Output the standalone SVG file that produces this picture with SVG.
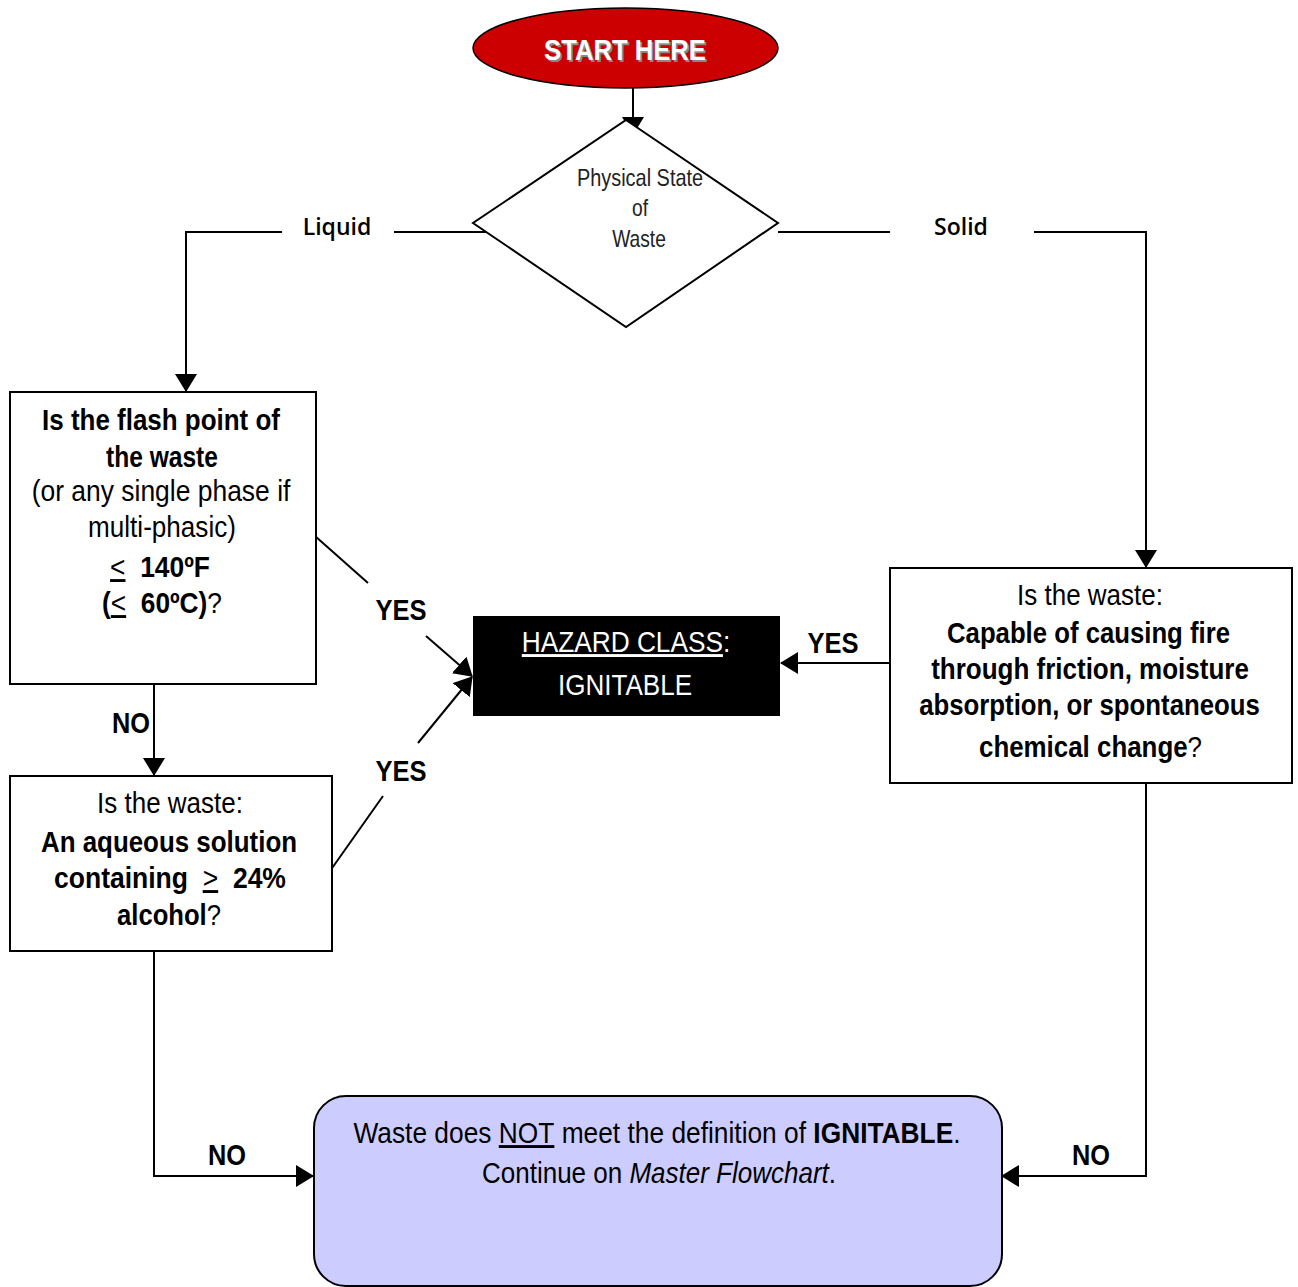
<svg xmlns="http://www.w3.org/2000/svg" width="1298" height="1287" viewBox="0 0 1298 1287">
<defs>
<style>
.n{font-family:"Liberation Sans Narrow","Arial Narrow","Liberation Sans",Arial,sans-serif;font-size:29px;fill:#000;text-anchor:middle}
.b{font-weight:bold}
.u{text-decoration:underline}
.i{font-style:italic}
.w{fill:#fff}
.d{font-size:24px;fill:#222}
.os{font-family:"Open Sans","Noto Sans",sans-serif;font-weight:600;font-size:23px;text-anchor:middle;fill:#000}
.ln{fill:none;stroke:#000;stroke-width:2}
.ar{fill:none;stroke:#000;stroke-width:2;marker-end:url(#ah)}
.box{fill:#fff;stroke:#000;stroke-width:2}
.st{font-family:"Liberation Sans",Arial,sans-serif;font-weight:bold;font-size:30px;text-anchor:middle}
</style>
<marker id="ah" markerUnits="userSpaceOnUse" viewBox="0 0 18 22" markerWidth="18" markerHeight="22" refX="17" refY="11" orient="auto"><path d="M0,0 L18,11 L0,22 Z" fill="#000"/></marker>
</defs>

<g id="connectors">
<path class="ar" d="M633,88 V134"/>
<path class="ln" d="M490,232 H394"/>
<path class="ar" d="M282,232 H186 V391"/>
<path class="ln" d="M778,232 H890"/>
<path class="ar" d="M1034,232 H1146 V567"/>
<path class="ar" d="M154,682 V775"/>
<path class="ar" d="M154,951 V1176 H313"/>
<path class="ar" d="M1146,776 V1176 H1002"/>
<path class="ln" d="M315,536 L368,583"/>
<path class="ar" d="M426,636 L472,676"/>
<path class="ln" d="M330,871 L383,796"/>
<path class="ar" d="M418,743 L472,677"/>
<path class="ar" d="M890,663 H781"/>
<text class="os" x="337" y="235">Liquid</text>
<text class="os" x="961" y="235">Solid</text>
<text class="n b" transform="translate(401,620) scale(.88,1)">YES</text>
<text class="n b" transform="translate(401,781) scale(.88,1)">YES</text>
<text class="n b" transform="translate(833,653) scale(.88,1)">YES</text>
<text class="n b" transform="translate(131,733) scale(.874,1)">NO</text>
<text class="n b" transform="translate(227,1165) scale(.874,1)">NO</text>
<text class="n b" transform="translate(1091,1165) scale(.874,1)">NO</text>
</g>

<g id="start">
<ellipse cx="625.5" cy="48" rx="152.5" ry="40" fill="#CC0000" stroke="#000" stroke-width="1.5"/>
<text class="st" fill="#888" transform="translate(627,62) scale(.855,1)">START HERE</text>
<text class="st" fill="#fff" transform="translate(625,60) scale(.855,1)">START HERE</text>
</g>

<g id="physical-state">
<polygon points="626,120 778,223 626,327 473,223" fill="#fff" stroke="#000" stroke-width="2"/>
<text class="n d" transform="translate(640,186) scale(.83,1)">Physical State</text>
<text class="n d" transform="translate(640,216) scale(.8,1)">of</text>
<text class="n d" transform="translate(639,247) scale(.8,1)">Waste</text>
</g>

<g id="flash-point">
<rect class="box" x="10" y="392" width="306" height="292"/>
<text class="n b" transform="translate(161,430) scale(.895,1)">Is the flash point of</text>
<text class="n b" transform="translate(162,467) scale(.847,1)">the waste</text>
<text class="n" transform="translate(161,501) scale(.912,1)">(or any single phase if</text>
<text class="n" transform="translate(162,537) scale(.9,1)">multi-phasic)</text>
<text class="n" transform="translate(160,577) scale(.91,1)"><tspan class="u">&lt;</tspan><tspan class="b">&#160;&#160;140ºF</tspan></text>
<text class="n" transform="translate(162,613) scale(.907,1)"><tspan class="b">(</tspan><tspan class="u">&lt;</tspan><tspan class="b">&#160;&#160;60ºC)</tspan>?</text>
</g>

<g id="aqueous">
<rect class="box" x="10" y="776" width="322" height="175"/>
<text class="n" transform="translate(170,813) scale(.897,1)">Is the waste:</text>
<text class="n b" transform="translate(169,852) scale(.893,1)">An aqueous solution</text>
<text class="n" transform="translate(170,888) scale(.914,1)"><tspan class="b">containing&#160;&#160;</tspan><tspan class="u">&gt;</tspan><tspan class="b">&#160;&#160;24%</tspan></text>
<text class="n" transform="translate(169,925) scale(.884,1)"><tspan class="b">alcohol</tspan>?</text>
</g>

<g id="hazard">
<rect x="473" y="616" width="307" height="100" fill="#000"/>
<text class="n w" transform="translate(626,652) scale(.905,1)"><tspan class="u">HAZARD CLASS</tspan>:</text>
<text class="n w" transform="translate(625,695) scale(.898,1)">IGNITABLE</text>
</g>

<g id="solid-question">
<rect class="box" x="890" y="568" width="402" height="215"/>
<text class="n" transform="translate(1090,605) scale(.897,1)">Is the waste:</text>
<text class="n b" transform="translate(1088.5,643) scale(.887,1)">Capable of causing fire</text>
<text class="n b" transform="translate(1090,679) scale(.897,1)">through friction, moisture</text>
<text class="n b" transform="translate(1089.5,715) scale(.889,1)">absorption, or spontaneous</text>
<text class="n" transform="translate(1090.5,757) scale(.893,1)"><tspan class="b">chemical change</tspan>?</text>
</g>

<g id="not-ignitable">
<rect x="314" y="1096" width="688" height="190" rx="32" fill="#CCCCFF" stroke="#000" stroke-width="2"/>
<text class="n" transform="translate(657,1143) scale(.908,1)">Waste does <tspan class="u">NOT</tspan> meet the definition of <tspan class="b">IGNITABLE</tspan>.</text>
<text class="n" transform="translate(659,1183) scale(.897,1)">Continue on <tspan class="i">Master Flowchart</tspan>.</text>
</g>
</svg>
